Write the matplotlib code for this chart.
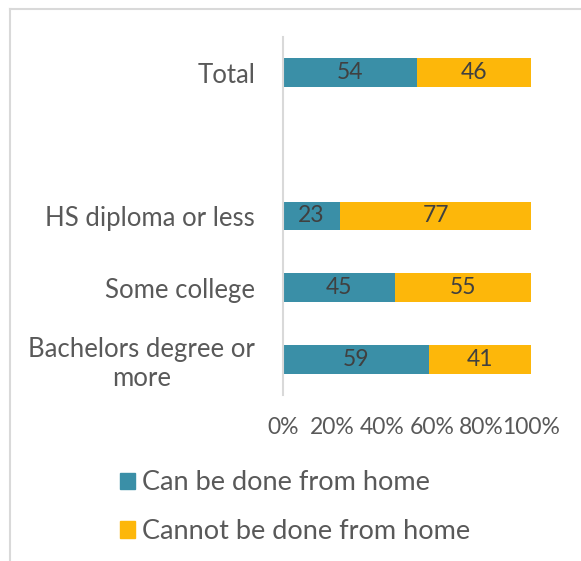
import numpy as np
import matplotlib.pyplot as plt
from matplotlib.patches import Patch
from matplotlib.lines import Line2D

plt.rcParams['font.family'] = ['Lato', 'DejaVu Sans']

# Share of jobs by education, in percent
categories = ['Bachelors degree or\nmore', 'Some college', 'HS diploma or less', '', 'Total']
can_home = [59, 45, 23, None, 54]
cannot_home = [41, 55, 77, None, 46]
series_names = ['Can be done from home', 'Cannot be done from home']
tick_labels = ['0%', '20%', '40%', '60%', '80%', '100%']

teal = '#3A8FA7'
gold = '#FDB70A'
text_col = '#595959'
fs = 16.5

fig = plt.figure(figsize=(5.81, 5.61), dpi=100)
ax = fig.add_axes([283 / 581, 1 - 395 / 561, 248 / 581, 358 / 561])

y = np.arange(len(categories))
mask = np.array([v is not None for v in can_home])
a = np.array([v if v is not None else 0 for v in can_home], dtype=float)
b = np.array([v if v is not None else 0 for v in cannot_home], dtype=float)

bh = 0.4
ax.barh(y[mask], a[mask], height=bh, color=teal, label=series_names[0])
ax.barh(y[mask], b[mask], left=a[mask], height=bh, color=gold, label=series_names[1])

for yi, ai, bi, m in zip(y, a, b, mask):
    if not m:
        continue
    ax.text(ai / 2, yi, f'{ai:.0f}', ha='center', va='center', fontsize=fs, color='#404040')
    ax.text(ai + bi / 2, yi, f'{bi:.0f}', ha='center', va='center', fontsize=fs, color='#404040')

ax.set_xlim(0, 100)
ax.set_ylim(-0.5, len(categories) - 0.5)
ax.set_yticks(y)
ax.set_yticklabels(categories, fontsize=18.5, color=text_col, ha='right',
                   multialignment='center', linespacing=1.2)
ax.tick_params(axis='y', length=0, pad=20)
ax.set_xticks(np.arange(0, 101, 20))
ax.set_xticklabels(tick_labels, fontsize=fs, color=text_col)
ax.tick_params(axis='x', length=0, pad=16)
for side in ['top', 'right', 'bottom']:
    ax.spines[side].set_visible(False)
ax.spines['left'].set_color('#D9D9D9')
ax.spines['left'].set_linewidth(1.5)

# outer chart frame
fig.add_artist(Line2D([10 / 581, 1], [1 - 9 / 561, 1 - 9 / 561], color='#D9D9D9', lw=1.5))
fig.add_artist(Line2D([10 / 581, 10 / 581], [0, 1 - 9 / 561], color='#D9D9D9', lw=1.5))

handles = [Patch(color=teal), Patch(color=gold)]
fig.legend(handles, series_names, loc='upper left', bbox_to_anchor=(96 / 581, 1 - 446 / 561),
           frameon=False, fontsize=19.5, labelcolor=text_col, handlelength=0.55,
           handleheight=0.55, handletextpad=0.25, labelspacing=0.88)

fig.savefig('out.png', dpi=100)
